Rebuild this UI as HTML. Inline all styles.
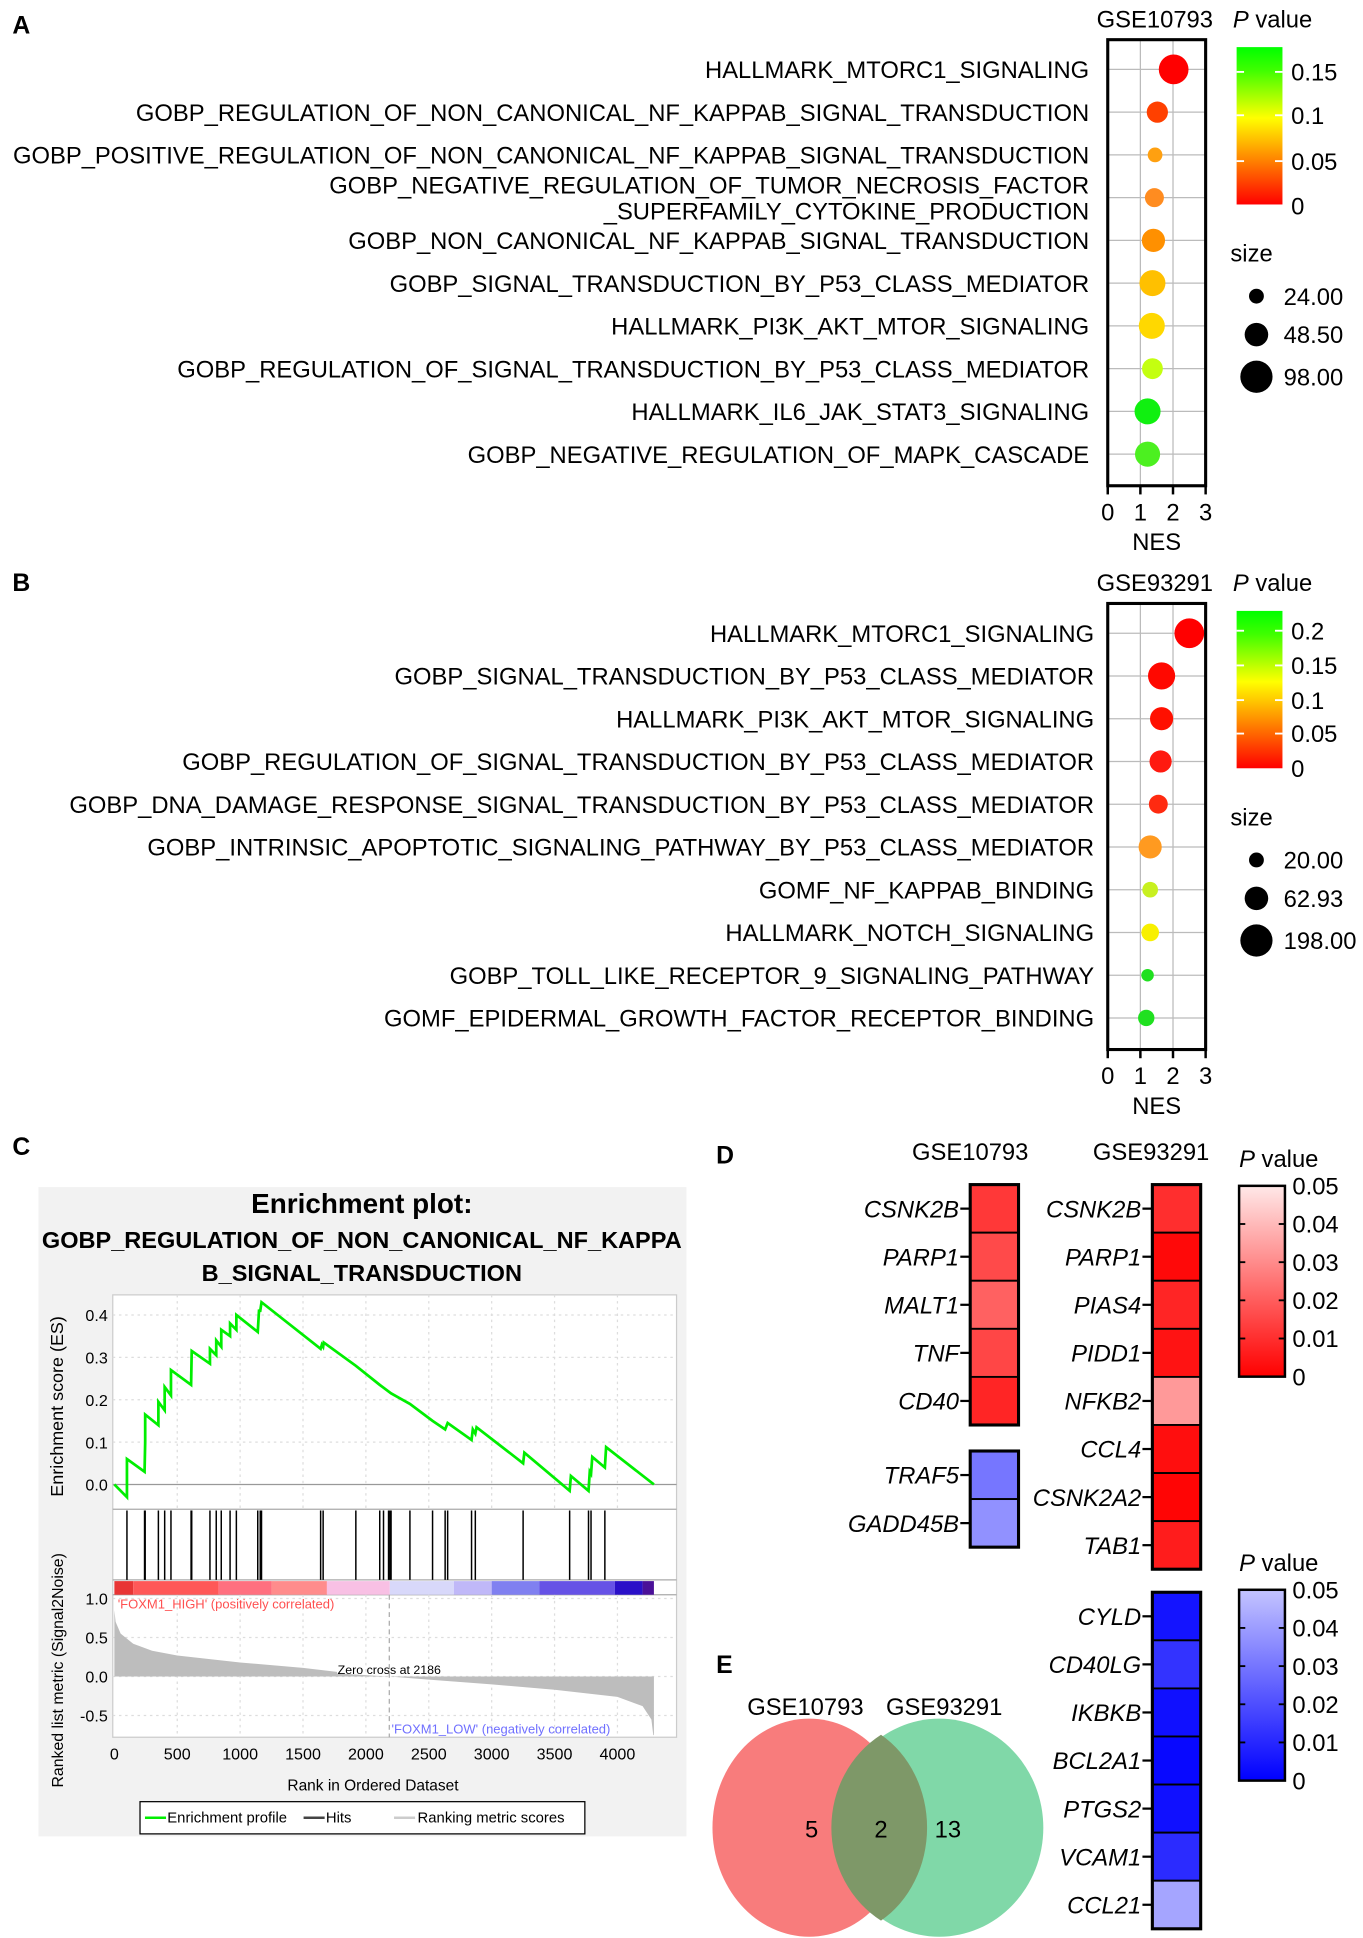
<!DOCTYPE html>
<html><head><meta charset="utf-8"><style>
html,body{margin:0;padding:0;background:#fff}
svg{display:block;font-family:"Liberation Sans",Arial,sans-serif}
</style></head><body>
<svg id="fig" width="1363" height="1938" viewBox="0 0 1100 1564" xmlns="http://www.w3.org/2000/svg">
<defs>
<linearGradient id="gA" x1="0" y1="1" x2="0" y2="0"><stop offset="0" stop-color="#ff0000"/><stop offset="0.33" stop-color="#ff9900"/><stop offset="0.55" stop-color="#ffff00"/><stop offset="0.85" stop-color="#40ff00"/><stop offset="1" stop-color="#00ff00"/></linearGradient>
<linearGradient id="gR" x1="0" y1="1" x2="0" y2="0"><stop offset="0" stop-color="#ff0000"/><stop offset="1" stop-color="#ffe8e8"/></linearGradient>
<linearGradient id="gB" x1="0" y1="1" x2="0" y2="0"><stop offset="0" stop-color="#0000ff"/><stop offset="1" stop-color="#c4c4ff"/></linearGradient>
</defs>
<g font-weight="bold" font-size="20">
<text x="10" y="27">A</text>
<text x="10" y="477">B</text>
<text x="10" y="932">C</text>
<text x="578" y="939">D</text>
<text x="578" y="1350">E</text>
</g>
<g id="pa"></g>
<g id="pb"></g>
<g id="pc"></g>
<g id="pd"></g>
<g id="pe">
<ellipse cx="653" cy="1475" rx="78" ry="88" fill="#f87c7c"/>
<ellipse cx="758" cy="1475" rx="84" ry="88" fill="#80d8a8"/>
<path d="M711,1400 A78,88 0 0 1 711,1550 A84,88 0 0 1 711,1400Z" fill="#7e9868"/>
<text x="650" y="1384" font-size="19.2" text-anchor="middle">GSE10793</text>
<text x="762" y="1384" font-size="19.2" text-anchor="middle">GSE93291</text>
<text x="655" y="1483" font-size="19.2" text-anchor="middle">5</text>
<text x="711" y="1483" font-size="19.2" text-anchor="middle">2</text>
<text x="765" y="1483" font-size="19.2" text-anchor="middle">13</text>
</g>
</svg>
<script>
const NS='http://www.w3.org/2000/svg';
const FS=19.2;
function mk(p,t,a,txt){const e=document.createElementNS(NS,t);for(const k in a)e.setAttribute(k,a[k]);if(txt!==undefined)e.textContent=txt;p.appendChild(e);return e;}

// ---- Panel A data
const aTerms=["HALLMARK_MTORC1_SIGNALING","GOBP_REGULATION_OF_NON_CANONICAL_NF_KAPPAB_SIGNAL_TRANSDUCTION","GOBP_POSITIVE_REGULATION_OF_NON_CANONICAL_NF_KAPPAB_SIGNAL_TRANSDUCTION","GOBP_NEGATIVE_REGULATION_OF_TUMOR_NECROSIS_FACTOR|_SUPERFAMILY_CYTOKINE_PRODUCTION","GOBP_NON_CANONICAL_NF_KAPPAB_SIGNAL_TRANSDUCTION","GOBP_SIGNAL_TRANSDUCTION_BY_P53_CLASS_MEDIATOR","HALLMARK_PI3K_AKT_MTOR_SIGNALING","GOBP_REGULATION_OF_SIGNAL_TRANSDUCTION_BY_P53_CLASS_MEDIATOR","HALLMARK_IL6_JAK_STAT3_SIGNALING","GOBP_NEGATIVE_REGULATION_OF_MAPK_CASCADE"];
const aNES=[2.02,1.52,1.45,1.43,1.4,1.37,1.35,1.37,1.22,1.22];
const aSize=[98,50,24,40,60,75,75,48,75,70];
const aColors=["#ff0000","#ff4000","#ffa010","#ff8c20","#ff9000","#ffc000","#ffd800","#c4ff10","#10f010","#4cf020"];
const aPTicks=["0.15","0.1","0.05","0"];
const aSizeLegend=["24.00","48.50","98.00"];
// ---- Panel B data
const bTerms=["HALLMARK_MTORC1_SIGNALING","GOBP_SIGNAL_TRANSDUCTION_BY_P53_CLASS_MEDIATOR","HALLMARK_PI3K_AKT_MTOR_SIGNALING","GOBP_REGULATION_OF_SIGNAL_TRANSDUCTION_BY_P53_CLASS_MEDIATOR","GOBP_DNA_DAMAGE_RESPONSE_SIGNAL_TRANSDUCTION_BY_P53_CLASS_MEDIATOR","GOBP_INTRINSIC_APOPTOTIC_SIGNALING_PATHWAY_BY_P53_CLASS_MEDIATOR","GOMF_NF_KAPPAB_BINDING","HALLMARK_NOTCH_SIGNALING","GOBP_TOLL_LIKE_RECEPTOR_9_SIGNALING_PATHWAY","GOMF_EPIDERMAL_GROWTH_FACTOR_RECEPTOR_BINDING"];
const bNES=[2.5,1.65,1.65,1.62,1.55,1.3,1.3,1.3,1.22,1.18];
const bSize=[198,165,120,110,80,120,55,70,35,60];
const bColors=["#ff0000","#ff0800","#ff1000","#ff1a10","#ff2a10","#ff9a20","#c8f020","#f8f000","#20e020","#20e020"];
const bPTicks=["0.2","0.15","0.1","0.05","0"];
const bSizeLegend=["20.00","62.93","198.00"];

function dotplot(g,oy,title,terms,nes,size,cols,pt,sl,smax,lx){
  const x0=894,x1=973,top=oy+32,bot=oy+392;
  const xs=v=>x0+(x1-x0)*v/3;
  const ys=i=>oy+56+i*34.5;
  const rs=s=>Math.sqrt(s/smax)*12;
  for(let v=1;v<3;v++){const l=mk(g,'line',{x1:xs(v),x2:xs(v),y1:top,y2:bot,stroke:'#bbb','stroke-width':1});}
  terms.forEach((t,i)=>{
    const y=ys(i);
    const gl=mk(g,'line',{x1:x0,x2:x1,y1:y,y2:y,stroke:'#bbb','stroke-width':1});
    
    const parts=t.split('|');
    parts.forEach((p,k)=>{
      const tx=mk(g,'text',{x:lx,y:y+7+(parts.length>1?(k-0.5)*21:0),'font-size':FS,'text-anchor':'end'},p);
      
    });
  });
  terms.forEach((t,i)=>{
    const c=mk(g,'circle',{cx:xs(nes[i]),cy:ys(i),r:rs(size[i]),fill:cols[i]});
    
  });
  const b=mk(g,'rect',{x:x0,y:top,width:x1-x0,height:bot-top,fill:'none',stroke:'#000','stroke-width':2.5});
  
  for(let v=0;v<=3;v++){
    const tk=mk(g,'line',{x1:xs(v),x2:xs(v),y1:bot,y2:bot+7,stroke:'#000','stroke-width':2});
    
    const tl=mk(g,'text',{x:xs(v),y:bot+28,'font-size':FS,'text-anchor':'middle'},String(v));
    
  }
  const xl=mk(g,'text',{x:(x0+x1)/2,y:bot+52,'font-size':FS,'text-anchor':'middle'},'NES');
  
  const tt=mk(g,'text',{x:932,y:oy+22,'font-size':FS,'text-anchor':'middle'},title);
  
  const pv=mk(g,'text',{x:995,y:oy+22,'font-size':FS});
  
  mk(pv,'tspan',{'font-style':'italic'},'P');mk(pv,'tspan',{},' value');
  const cb=mk(g,'rect',{x:998,y:oy+38,width:37,height:127,fill:'url(#gA)'});
  
  const n=pt.length;
  pt.forEach((p,i)=>{
    const y=oy+38+ (pt.length===4? [20,55,92,128][i] : [16,44,72,99,127][i]);
    if(i<n-1){mk(g,'line',{x1:998,x2:1004,y1:y,y2:y,stroke:'#fff','stroke-width':1.5});mk(g,'line',{x1:1029,x2:1035,y1:y,y2:y,stroke:'#fff','stroke-width':1.5});}
    const l=mk(g,'text',{x:1042,y:y+7,'font-size':FS},p);
    
  });
  const st=mk(g,'text',{x:993,y:oy+211,'font-size':FS},'size');
  
  const sr=[6,9.5,13];
  sl.forEach((s,i)=>{
    const y=oy+239+[0,31,65][i];
    const c=mk(g,'circle',{cx:1014,cy:y,r:sr[i],fill:'#000'});
    
    const l=mk(g,'text',{x:1036,y:y+7,'font-size':FS},s);
    
  });
}
dotplot(document.getElementById('pa'),0,'GSE10793',aTerms,aNES,aSize,aColors,aPTicks,aSizeLegend,98,879);
dotplot(document.getElementById('pb'),455,'GSE93291',bTerms,bNES,bSize,bColors,bPTicks,bSizeLegend,198,883);

// ---- Panel C data
const esRanks=[0,100,100,240,245,245,350,350,400,400,450,450,610,615,760,760,810,810,850,850,920,920,970,970,1140,1150,1160,1170,1640,1650,1660,1665,1920,2110,2200,2350,2530,2630,2650,2840,2850,2870,2880,3250,3260,3620,3630,3770,3780,3790,3800,3900,3910,4290];
const esValues=[0,-0.03,0.06,0.03,0.1,0.165,0.14,0.195,0.175,0.23,0.21,0.27,0.235,0.315,0.285,0.32,0.305,0.34,0.325,0.365,0.35,0.38,0.365,0.40,0.36,0.41,0.41,0.43,0.32,0.33,0.325,0.335,0.28,0.235,0.215,0.19,0.15,0.13,0.145,0.105,0.13,0.12,0.135,0.05,0.075,-0.015,0.02,-0.015,0.03,0.025,0.065,0.04,0.088,0];
const hitRanks=[100,240,245,350,400,450,610,615,760,810,850,920,970,1140,1160,1170,1640,1660,1920,2110,2140,2180,2190,2200,2350,2530,2630,2650,2840,2870,3250,3620,3770,3790,3900];
const metricRanks=[0,10,50,150,300,500,1000,1500,1770,1770,2186,2500,3000,3500,4000,4200,4270,4285,4290];
const metricValues=[0.85,0.7,0.55,0.42,0.33,0.27,0.18,0.11,0.06,0.04,0,-0.04,-0.1,-0.17,-0.26,-0.38,-0.55,-0.75,-0.75];
const esTicks=[0,0.1,0.2,0.3,0.4];
const metricTicks=[1.0,0.5,0.0,-0.5];
const rankTicks=[0,500,1000,1500,2000,2500,3000,3500,4000];
const barStops=[0,150,830,1250,1690,2190,2700,3000,3380,3980,4200,4290];
const barColors=["#e83535","#ff5858","#ff7080","#ff8c8c","#f8c0e4","#d8d8fa","#c0b8f8","#8080f0","#6652e6","#2a10c8","#4a1098"];
(function(){
  const g=document.getElementById('pc');
  const bg=mk(g,'rect',{x:31,y:958,width:523,height:524,fill:'#f2f2f2'});
  
  [['Enrichment plot:',979,22.5],['GOBP_REGULATION_OF_NON_CANONICAL_NF_KAPPA',1007,19],['B_SIGNAL_TRANSDUCTION',1034,19]].forEach((t,i)=>{
    const e=mk(g,'text',{x:292,y:t[1],'font-size':t[2],'font-weight':'bold','text-anchor':'middle'},t[0]);
    
  });
  const L=91,R=546;
  const xs=r=>92.3+r*0.1015;
  const esy=v=>1198-v*342;
  const my=v=>1353-v*63;
  const pl=mk(g,'rect',{x:L,y:1045,width:R-L,height:357,fill:'#fff',stroke:'#ccc'});
  
  [1218,1275,1287].forEach(y=>mk(g,'line',{x1:L,x2:R,y1:y,y2:y,stroke:'#aaa'}));
  rankTicks.forEach(r=>{if(r>0){mk(g,'line',{x1:xs(r),x2:xs(r),y1:1045,y2:1218,stroke:'#ddd','stroke-dasharray':'2,3'});mk(g,'line',{x1:xs(r),x2:xs(r),y1:1287,y2:1402,stroke:'#ddd','stroke-dasharray':'2,3'});}
    const t=mk(g,'text',{x:xs(r),y:1420,'font-size':13,'text-anchor':'middle'},String(r));
    });
  esTicks.forEach(v=>{mk(g,'line',{x1:L,x2:R,y1:esy(v),y2:esy(v),stroke:v===0?'#999':'#ddd','stroke-dasharray':v===0?'':'2,3'});
    const t=mk(g,'text',{x:L-4,y:esy(v)+5,'font-size':13,'text-anchor':'end'},v.toFixed(1));
    });
  metricTicks.forEach(v=>{mk(g,'line',{x1:L,x2:R,y1:my(v),y2:my(v),stroke:'#ddd','stroke-dasharray':'2,3'});
    const t=mk(g,'text',{x:L-4,y:my(v)+5,'font-size':13,'text-anchor':'end'},v.toFixed(1));
    });
  let d='M'+xs(metricRanks[0])+','+my(0);
  metricRanks.forEach((r,i)=>{d+=' L'+xs(r)+','+my(metricValues[i]);});
  d+=' L'+xs(metricRanks[metricRanks.length-1])+','+my(0)+'Z';
  const ar=mk(g,'path',{d:d,fill:'#bdbdbd'});
  
  const zc=mk(g,'text',{x:xs(2186),y:1351,'font-size':10,'text-anchor':'middle'},'Zero cross at 2186');
  
  mk(g,'line',{x1:xs(2186),x2:xs(2186),y1:1287,y2:1402,stroke:'#aaa','stroke-dasharray':'4,3'});
  for(let i=0;i<barColors.length;i++){
    const b=mk(g,'rect',{x:xs(barStops[i]),y:1276,width:xs(barStops[i+1])-xs(barStops[i]),height:11,fill:barColors[i]});
    
  }
  hitRanks.forEach(r=>{const h=mk(g,'line',{x1:xs(r),x2:xs(r),y1:1219,y2:1275,stroke:'#000','stroke-width':1.2});
    });
  const pts=esRanks.map((r,i)=>xs(r)+','+esy(esValues[i])).join(' ');
  const es=mk(g,'polyline',{points:pts,fill:'none',stroke:'#00ee00','stroke-width':2.2});
  
  const hi=mk(g,'text',{x:95,y:1298,'font-size':10.5,fill:'#ff5050'},"'FOXM1_HIGH' (positively correlated)");
  
  const lo=mk(g,'text',{x:316,y:1399,'font-size':10.5,fill:'#7070ff'},"'FOXM1_LOW' (negatively correlated)");
  
  const y1=mk(g,'text',{x:0,y:0,'font-size':14.5,'text-anchor':'middle',transform:'translate(51,1135) rotate(-90)'},'Enrichment score (ES)');
  
  const y2=mk(g,'text',{x:0,y:0,'font-size':12.8,'text-anchor':'middle',transform:'translate(51,1348) rotate(-90)'},'Ranked list metric (Signal2Noise)');
  
  const xt=mk(g,'text',{x:301,y:1445,'font-size':12.5,'text-anchor':'middle'},'Rank in Ordered Dataset');
  
  const lg=mk(g,'rect',{x:113,y:1454,width:359,height:26,fill:'#fff',stroke:'#000','stroke-width':1});
  
  mk(g,'line',{x1:117,x2:134,y1:1467,y2:1467,stroke:'#00ee00','stroke-width':2});
  mk(g,'text',{x:135,y:1471,'font-size':12},'Enrichment profile');
  mk(g,'line',{x1:245,x2:262,y1:1467,y2:1467,stroke:'#444','stroke-width':2});
  mk(g,'text',{x:263,y:1471,'font-size':12},'Hits');
  mk(g,'line',{x1:318,x2:335,y1:1467,y2:1467,stroke:'#ccc','stroke-width':2});
  mk(g,'text',{x:337,y:1471,'font-size':12},'Ranking metric scores');
})();

// ---- Panel D data
const d1RedGenes=["CSNK2B","PARP1","MALT1","TNF","CD40"];
const d1RedP=[0.012,0.016,0.021,0.015,0.008];
const d1BlueGenes=["TRAF5","GADD45B"];
const d1BlueP=[0.03,0.037];
const d2RedGenes=["CSNK2B","PARP1","PIAS4","PIDD1","NFKB2","CCL4","CSNK2A2","TAB1"];
const d2RedP=[0.01,0.002,0.008,0.004,0.033,0.003,0.001,0.006];
const d2BlueGenes=["CYLD","CD40LG","IKBKB","BCL2A1","PTGS2","VCAM1","CCL21"];
const d2BlueP=[0.005,0.013,0.004,0.002,0.004,0.011,0.042];
const legendTicks=["0.05","0.04","0.03","0.02","0.01","0"];
(function(){
  const g=document.getElementById('pd');
  const red=p=>{const t=p/0.05;const v=Math.round(232*t);return `rgb(255,${v},${v})`;};
  const blue=p=>{const t=p/0.05;const v=Math.round(196*t);return `rgb(${v},${v},255)`;};
  function col(x,top,genes,ps,cf,nm){
    const h=38.8;
    genes.forEach((gn,i)=>{
      const y=top+i*h;
      const r=mk(g,'rect',{x:x,y:y,width:39,height:h,fill:cf(ps[i]),stroke:'#000','stroke-width':1.5});
      
      mk(g,'line',{x1:x-8,x2:x,y1:y+h/2,y2:y+h/2,stroke:'#000','stroke-width':1.8});
      const t=mk(g,'text',{x:x-9,y:y+h/2+7,'font-size':FS,'font-style':'italic','text-anchor':'end'},gn);
      
    });
    mk(g,'rect',{x:x,y:top,width:39,height:h*genes.length,fill:'none',stroke:'#000','stroke-width':2.5});
  }
  col(783,956,d1RedGenes,d1RedP,red,'gse10793');
  col(783,1171,d1BlueGenes,d1BlueP,blue,'gse10793');
  col(930,956,d2RedGenes,d2RedP,red,'gse93291');
  col(930,1285,d2BlueGenes,d2BlueP,blue,'gse93291');
  const t1=mk(g,'text',{x:783,y:936,'font-size':FS,'text-anchor':'middle'},'GSE10793');
  
  const t2=mk(g,'text',{x:929,y:936,'font-size':FS,'text-anchor':'middle'},'GSE93291');
  
  [[957,'url(#gR)',942],[1283,'url(#gB)',1268]].forEach((L,k)=>{
    const pv=mk(g,'text',{x:1000,y:L[2],'font-size':FS});
    
    mk(pv,'tspan',{'font-style':'italic'},'P');mk(pv,'tspan',{},' value');
    const cb=mk(g,'rect',{x:1000,y:L[0],width:37,height:154,fill:L[1],stroke:'#000','stroke-width':2});
    
    legendTicks.forEach((s,i)=>{
      const y=L[0]+i*30.8;
      if(i>0&&i<5){mk(g,'line',{x1:1000,x2:1005,y1:y,y2:y,stroke:'#000','stroke-width':1.5});mk(g,'line',{x1:1032,x2:1037,y1:y,y2:y,stroke:'#000','stroke-width':1.5});}
      const t=mk(g,'text',{x:1043,y:y+7,'font-size':FS},s);
      
    });
  });
})();
</script>
</body></html>
